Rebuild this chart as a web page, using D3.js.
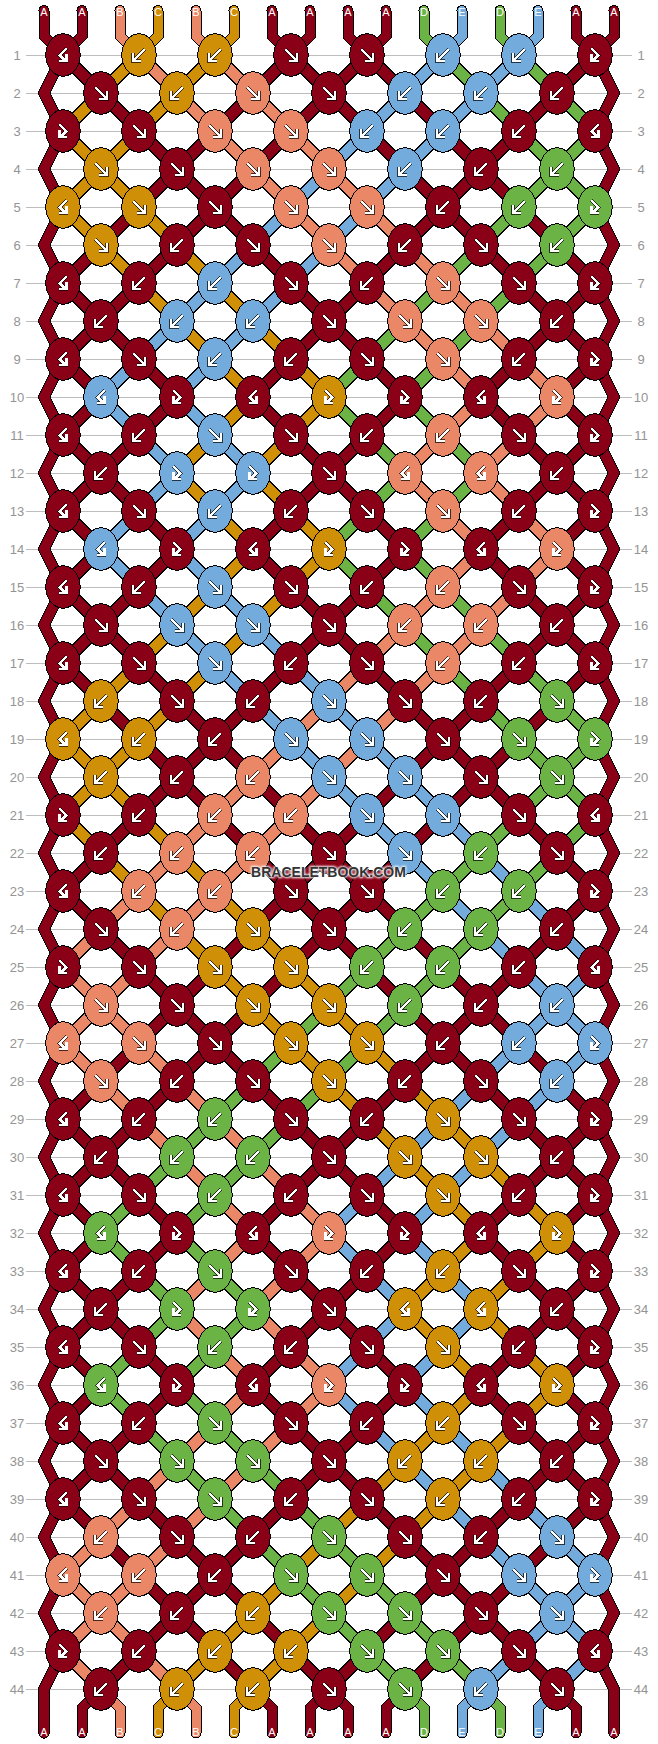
<!DOCTYPE html>
<html><head><meta charset="utf-8">
<script src="https://cdnjs.cloudflare.com/ajax/libs/d3/7.8.5/d3.min.js"></script>
<style>html,body{margin:0;padding:0;background:#fff}svg{display:block}</style>
</head><body>
<script>
const startThreads = "AABCBCAAAADEDEAA".split("");
const knotDirs = ["lLLRRLLr","RLRRLLL","rRRRLLLl","RRRRLLL","lRRRRLLr","RLRRLRL","lLLRLRRr","LLLRRRL","lRLLRRLr","lrlrrlr","lLRRLLRr","LrrRllL","lRLLRRLr","lrlrrlr","lLRRLLRr","RRRRLLL","lRRLRLLr","LRLRRLR","lLLRRRRr","LLLRRRR","rLLLRRRl","LLLRRLR","lLLRRLLr","RLRRLLL","rRRRLLLl","RRRRLLL","lRRRRLLr","RLRRLRL","lLLRLRRr","LLLRRRL","lRLLRRLr","lrlrrlr","lLRRLLRr","LrrRllL","lRLLRRLr","lrlrrlr","lLRRLLRr","RRRRLLL","lRRLRLLr","LRLRRLR","lLLRRRRr","LLLRRRR","rLLLRRRl","LLLRRLR"];
const knotColors = ["ACCAAEEA","ACBAEEA","AABBEEAA","CABBEAD","CCABBADD","CAABAAD","AAEAABAA","AEEABBA","AAEAABAA","EAACAAB","AAEAABAA","AEEABBA","AAEAABAA","EAACAAB","AAEAABAA","AEEABBA","AAEAABAA","CAAEAAD","CCAEEADD","CABEEAD","AABBEEAA","ABBAEDA","ABBAADDA","ABCADDA","AACCDDAA","BACCDAE","BBACCAEE","BAACAAE","AADAACAA","ADDACCA","AADAACAA","DAABAAC","AADAACAA","ADDACCA","AADAACAA","DAABAAC","AADAACAA","ADDACCA","AADAACAA","BAADAAE","BBADDAEE","BACDDAE","AACCDDAA","ACCADEA"];
const rowLabels = d3.range(1,45);
const palette = {A:"#8a0016",B:"#e98766",C:"#cf9008",D:"#6ab344",E:"#72abdc"};

const W=658,H=1744;
const x=d3.scaleLinear().domain([0,15]).range([44,614]);
const y=d3.scaleLinear().domain([1,44]).range([55,1689]);
const svg=d3.select("body").append("svg").attr("width",W).attr("height",H).attr("viewBox",[0,0,W,H]);
const defs=svg.append("defs");
defs.append("filter").attr("id","glow").attr("x","-10%").attr("y","-50%").attr("width","120%").attr("height","200%")
  .append("feGaussianBlur").attr("stdDeviation",1.2);

// grid lines and row labels
svg.append("g").selectAll("line").data(rowLabels).join("line")
  .attr("x1",26).attr("x2",632).attr("y1",d=>y(d)).attr("y2",d=>y(d))
  .attr("stroke","#bdbdbd").attr("stroke-width",1).attr("shape-rendering","crispEdges");
[17,641].forEach(px=>{
  svg.append("g").selectAll("text").data(rowLabels).join("text")
   .attr("x",px).attr("y",d=>y(d)+4.5).attr("text-anchor","middle")
   .attr("font-family","Liberation Sans, Arial, sans-serif").attr("font-size",13).attr("fill","#949494").text(d=>d);
});

// threads follow the knots: they cross on L/R and stay on l/r
const pairs=r=>{
  const n=knotDirs[r-1].length; return d3.range(n).map(i=>r%2?2*i:2*i+1);
};
const threadsAfter=[startThreads.slice()];
knotDirs.forEach((dirs,ri)=>{
  const t=threadsAfter[ri].slice();
  pairs(ri+1).forEach((p,i)=>{
    const d=dirs[i];
    if(d==="L"||d==="R"){const s=t[p];t[p]=t[p+1];t[p+1]=s;}
  });
  threadsAfter.push(t);
});
// position of thread slot p on row r (knot centre, or edge)
const slot=(r,p)=>{
  if(r%2){return p%2? p-.5 : p+.5;}
  if(p===0||p===15) return p;
  return p%2? p+.5 : p-.5;
};
const line=d3.line().x(d=>x(d[0])).y(d=>y(d[1]));
const threadG=svg.append("g").attr("fill","none").attr("shape-rendering","crispEdges");
const drawThread=(pts,c,w)=>{
  threadG.append("path").attr("d",line(pts)).attr("stroke","#000").attr("stroke-width",w).attr("stroke-linecap","round").attr("stroke-miterlimit",6);
  threadG.append("path").attr("d",line(pts)).attr("stroke",palette[c]).attr("stroke-width",w-2).attr("stroke-linecap","round").attr("stroke-miterlimit",6);
};
const capTop=y.invert(10.5), capBottom=y.invert(1733);
d3.range(0,16).forEach(p=>{
  drawThread([[p,capTop],[p,0.5],[slot(1,p),1]],startThreads[p],11);
  if(p!==0&&p!==15) drawThread([[slot(44,p),44],[p,44.5],[p,capBottom]],threadsAfter[44][p],11);
  if(p===0||p===15){
    const pts=d3.range(1,45).map(r=>[slot(r,p),r]).concat([[p,capBottom]]);
    drawThread(pts,threadsAfter[1][p],11.5);
  } else {
    d3.range(1,44).forEach(r=>{
      drawThread([[slot(r,p),r],[slot(r+1,p),r+1]],threadsAfter[r][p],13);
    });
  }
});

// knots + arrows
const arrowPaths={
  R:"M-5.5,-5.5L6,6M6,-2V6H-2",
  L:"M5.5,-5.5L-6,6M-6,-2V6H2",
  l:"M3.5,-6.5L-3.5,0.5L3.5,6M3.5,-1V6H-4",
  r:"M-3.5,-6.5L3.5,0.5L-3.5,6M-3.5,-1V6H4"
};
const knots=knotDirs.flatMap((dirs,ri)=>pairs(ri+1).map((p,i)=>({r:ri+1,p,dir:dirs[i],col:knotColors[ri][i]})));
const kG=svg.append("g").selectAll("g").data(knots).join("g")
  .attr("transform",d=>`translate(${x(d.p+.5)},${y(d.r)})`);
kG.append("ellipse").attr("rx",17.2).attr("ry",21.2).attr("fill",d=>palette[d.col]).attr("stroke","#000").attr("stroke-width",1).attr("shape-rendering","crispEdges");
kG.append("path").attr("d",d=>arrowPaths[d.dir]).attr("fill","none").attr("stroke","#000").attr("stroke-width",3.8).attr("stroke-opacity",.7).attr("shape-rendering","crispEdges");
kG.append("path").attr("d",d=>arrowPaths[d.dir]).attr("fill","none").attr("stroke","#fff").attr("stroke-width",2.7).attr("shape-rendering","crispEdges");

// strand letters
const letter=(arr,yy)=>svg.append("g").selectAll("text").data(arr).join("text")
  .attr("x",(d,i)=>x(i)).attr("y",yy).attr("text-anchor","middle")
  .attr("font-family","Liberation Sans, Arial, sans-serif").attr("font-size",11).attr("fill","#fff").text(d=>d);
letter(startThreads,16);
letter(threadsAfter[44],1736);

// watermark
const wm=svg.append("g").attr("font-family","Liberation Sans, Arial, sans-serif").attr("font-weight","bold").attr("font-size",14).attr("text-anchor","middle");
wm.append("text").attr("x",328.5).attr("y",877).attr("fill","#fff").attr("stroke","#fff").attr("stroke-width",2).attr("filter","url(#glow)").text("BRACELETBOOK.COM");
wm.append("text").attr("x",328.5).attr("y",877).attr("fill","#333").text("BRACELETBOOK.COM");
</script>
</body></html>
